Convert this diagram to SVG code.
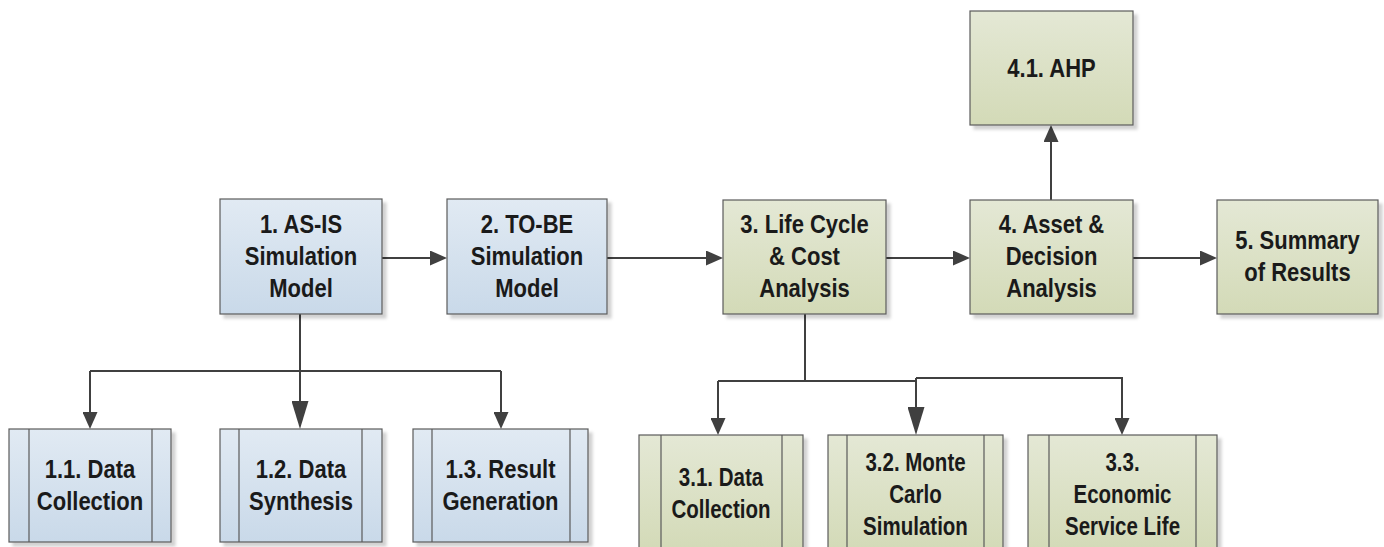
<svg xmlns="http://www.w3.org/2000/svg" width="1384" height="547" viewBox="0 0 1384 547">
<defs>
<linearGradient id="gBlue" x1="0" y1="0" x2="0" y2="1"><stop offset="0" stop-color="#e1eaf3"/><stop offset="1" stop-color="#c9d9e9"/></linearGradient>
<linearGradient id="gGreen" x1="0" y1="0" x2="0" y2="1"><stop offset="0" stop-color="#e4e8d5"/><stop offset="1" stop-color="#d3dab7"/></linearGradient>
<filter id="sh" x="-10%" y="-10%" width="130%" height="130%"><feDropShadow dx="4" dy="4" stdDeviation="1.5" flood-color="#000" flood-opacity="0.18"/></filter>
<marker id="ah" markerUnits="userSpaceOnUse" markerWidth="17" markerHeight="15" refX="14" refY="7.5" orient="auto"><path d="M0,0 L17,7.5 L0,15 Z" fill="#404040"/></marker>
<marker id="ahBig" markerUnits="userSpaceOnUse" markerWidth="28" markerHeight="17" refX="25" refY="8.5" orient="auto"><path d="M0,0 L28,8.5 L0,17 Z" fill="#404040"/></marker>
</defs>
<style>
.blue{fill:url(#gBlue);stroke:#5a5a5a;stroke-width:1.2;filter:url(#sh)}
.green{fill:url(#gGreen);stroke:#5a5a5a;stroke-width:1.2;filter:url(#sh)}
.inner{stroke:#5a5a5a;stroke-width:1.2;fill:none}
text{font-family:"Liberation Sans",Arial,sans-serif;font-weight:bold;font-size:25px;fill:#1a1a1a;text-anchor:middle}
.c{fill:none;stroke:#404040;stroke-width:2}
.a{marker-end:url(#ah)}
.b{marker-end:url(#ahBig)}
</style>
<g id="connectors">
<path class="c a" d="M382,258 H444"/>
<path class="c a" d="M607,258 H720"/>
<path class="c a" d="M886,258 H967"/>
<path class="c a" d="M1133,258 H1214"/>
<path class="c a" d="M1051,200 V128"/>
<path class="c b" d="M300,314 V426"/>
<path class="c" d="M90,371 H501"/>
<path class="c a" d="M90,371 V426"/>
<path class="c a" d="M501,371 V426"/>
<path class="c" d="M805,314 V381 H916"/>
<path class="c a" d="M718,381 H806 M718,381 V432"/>
<path class="c b" d="M916,378 V432"/>
<path class="c a" d="M916,378 H1122 V432"/>
</g>
<g id="n1"><rect class="blue" x="220" y="199" width="162" height="115"/>
<g transform="translate(301,0) scale(0.88,1)"><text x="0" y="233.5">1. AS-IS</text><text x="0" y="265.5">Simulation</text><text x="0" y="297.5">Model</text></g></g>
<g id="n2"><rect class="blue" x="447" y="199" width="160" height="115"/>
<g transform="translate(527,0) scale(0.88,1)"><text x="0" y="233.5">2. TO-BE</text><text x="0" y="265.5">Simulation</text><text x="0" y="297.5">Model</text></g></g>
<g id="n3"><rect class="green" x="723" y="200" width="163" height="114"/>
<g transform="translate(804.5,0) scale(0.88,1)"><text x="0" y="233.5">3. Life Cycle</text><text x="0" y="265.5">&amp; Cost</text><text x="0" y="297.5">Analysis</text></g></g>
<g id="n4"><rect class="green" x="970" y="200" width="163" height="114"/>
<g transform="translate(1051.5,0) scale(0.88,1)"><text x="0" y="233.5">4. Asset &amp;</text><text x="0" y="265.5">Decision</text><text x="0" y="297.5">Analysis</text></g></g>
<g id="n41"><rect class="green" x="970" y="11" width="163" height="114"/>
<g transform="translate(1051.5,0) scale(0.88,1)"><text x="0" y="77">4.1. AHP</text></g></g>
<g id="n5"><rect class="green" x="1217" y="200" width="161" height="114"/>
<g transform="translate(1297.5,0) scale(0.88,1)"><text x="0" y="249.5">5. Summary</text><text x="0" y="281.5">of Results</text></g></g>
<g id="n11"><rect class="blue" x="9" y="429" width="162" height="113"/>
<path class="inner" d="M29,429 V542 M152,429 V542"/>
<g transform="translate(90,0) scale(0.88,1)"><text x="0" y="478.5">1.1. Data</text><text x="0" y="510.5">Collection</text></g></g>
<g id="n12"><rect class="blue" x="220" y="429" width="162" height="113"/>
<path class="inner" d="M239,429 V542 M362,429 V542"/>
<g transform="translate(301,0) scale(0.88,1)"><text x="0" y="478.5">1.2. Data</text><text x="0" y="510.5">Synthesis</text></g></g>
<g id="n13"><rect class="blue" x="413" y="429" width="175" height="113"/>
<path class="inner" d="M432,429 V542 M570,429 V542"/>
<g transform="translate(500.5,0) scale(0.88,1)"><text x="0" y="478.5">1.3. Result</text><text x="0" y="510.5">Generation</text></g></g>
<g id="n31"><rect class="green" x="639" y="435" width="164" height="117"/>
<path class="inner" d="M661,435 V552 M782,435 V552"/>
<g transform="translate(721,0) scale(0.82,1)"><text x="0" y="486">3.1. Data</text><text x="0" y="518">Collection</text></g></g>
<g id="n32"><rect class="green" x="828" y="435" width="175" height="117"/>
<path class="inner" d="M847,435 V552 M984,435 V552"/>
<g transform="translate(915.5,0) scale(0.82,1)"><text x="0" y="471">3.2. Monte</text><text x="0" y="503">Carlo</text><text x="0" y="535">Simulation</text></g></g>
<g id="n33"><rect class="green" x="1028" y="435" width="189" height="117"/>
<path class="inner" d="M1049,435 V552 M1196,435 V552"/>
<g transform="translate(1122.5,0) scale(0.82,1)"><text x="0" y="471">3.3.</text><text x="0" y="503">Economic</text><text x="0" y="535">Service Life</text></g></g>
</svg>
